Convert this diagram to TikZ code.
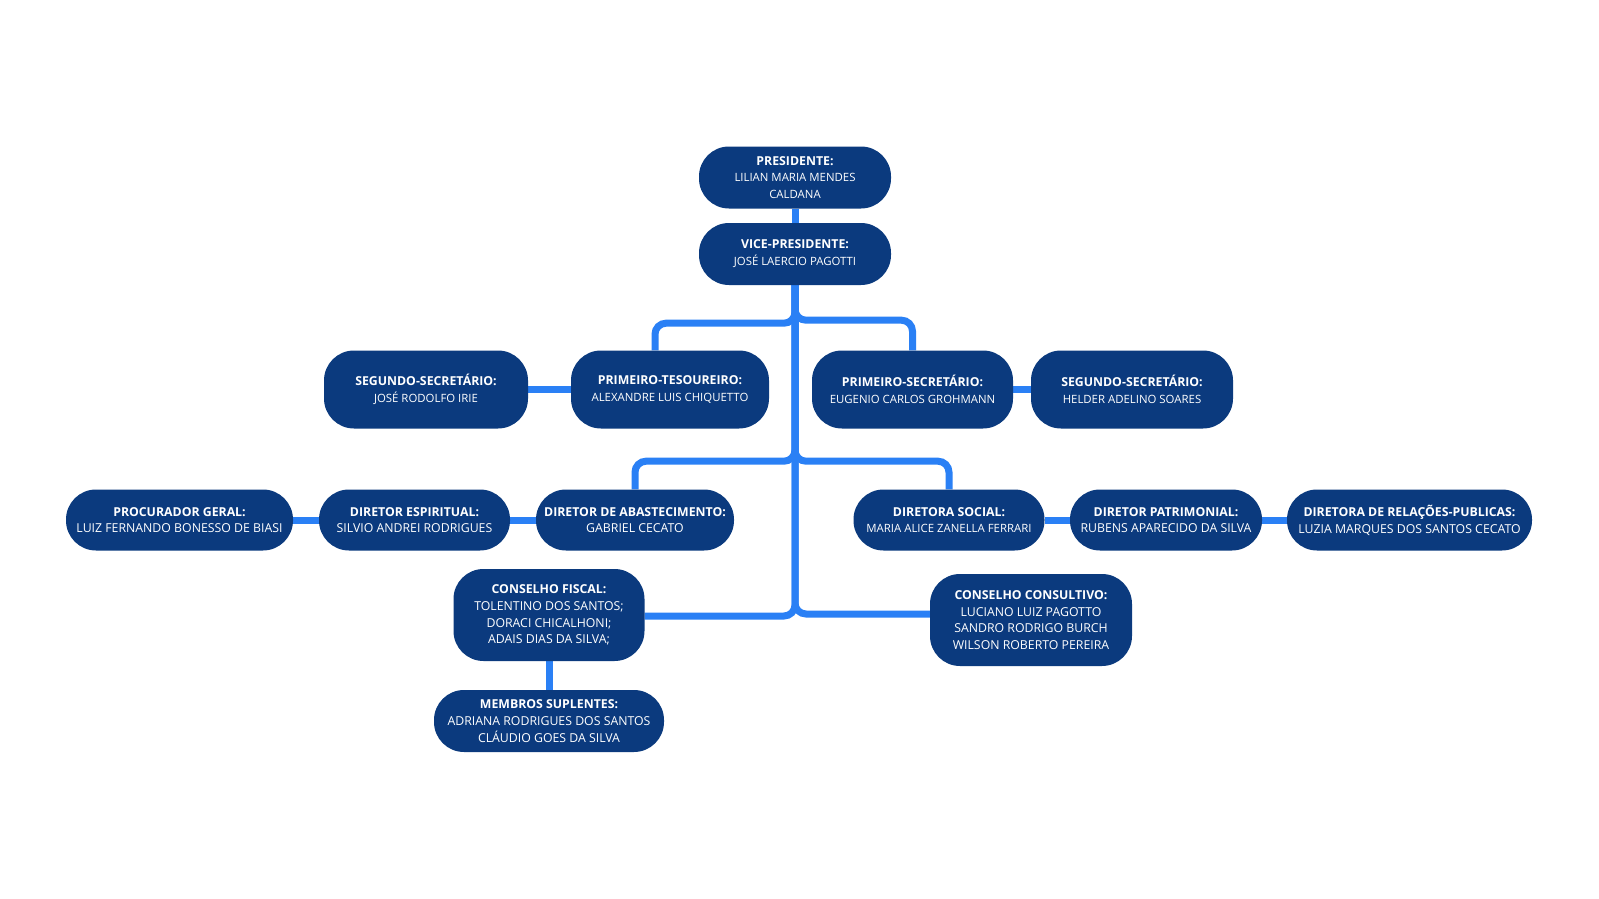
\documentclass[tikz,border=0pt]{standalone}
\usepackage{fontspec}
\setmainfont{Open Sans}
\usetikzlibrary{backgrounds,calc}
\definecolor{navy}{HTML}{0B3A7E}
\definecolor{linkblue}{HTML}{2A80F5}
\newcommand\smallnm[1]{{\fontsize{11.4}{16.8}\selectfont #1}}
\tikzset{
  orgbox/.style={fill=navy, text=white, rounded corners=30pt, align=center, inner sep=0pt,
    font=\fontsize{12.3}{16.8}\selectfont},
  link/.style={draw=linkblue, line width=7pt},
  branch/.style={draw=linkblue, line width=7pt, rounded corners=11pt},
}
\begin{document}
\begin{tikzpicture}[x=1pt,y=-1pt]
\useasboundingbox (0,0) rectangle (1599,899);
% row 0/1
\node[orgbox, minimum width=192pt, minimum height=62pt] (pres) at (795,177.5) {\textbf{PRESIDENTE:}\\\smallnm{LILIAN MARIA MENDES}\\\smallnm{CALDANA}};
\node[orgbox, minimum width=192pt, minimum height=62pt] (vice) at (795,254) {\textbf{VICE-PRESIDENTE:}\\\smallnm{JOSÉ LAERCIO PAGOTTI}};
% row 2
\node[orgbox, minimum width=204pt, minimum height=78pt] (seg1) at (426,389.5) {\textbf{SEGUNDO-SECRETÁRIO:}\\\smallnm{JOSÉ RODOLFO IRIE}};
\node[orgbox, minimum width=198pt, minimum height=78pt] (ptes) at (670,389.5) {\textbf{PRIMEIRO-TESOUREIRO:}\\\smallnm{ALEXANDRE LUIS CHIQUETTO}};
\node[orgbox, minimum width=201pt, minimum height=78pt] (psec) at (912.5,389.5) {\textbf{PRIMEIRO-SECRETÁRIO:}\\\smallnm{EUGENIO CARLOS GROHMANN}};
\node[orgbox, minimum width=202pt, minimum height=78pt] (seg2) at (1132,389.5) {\textbf{SEGUNDO-SECRETÁRIO:}\\\smallnm{HELDER ADELINO SOARES}};
% row 3
\node[orgbox, minimum width=227pt, minimum height=61pt] (proc) at (179.5,520) {\textbf{PROCURADOR GERAL:}\\LUIZ FERNANDO BONESSO DE BIASI};
\node[orgbox, minimum width=191pt, minimum height=61pt] (esp) at (414.5,520) {\textbf{DIRETOR ESPIRITUAL:}\\SILVIO ANDREI RODRIGUES};
\node[orgbox, minimum width=198pt, minimum height=61pt] (abas) at (635,520) {\textbf{DIRETOR DE ABASTECIMENTO:}\\GABRIEL CECATO};
\node[orgbox, minimum width=191pt, minimum height=61pt] (soc) at (949,520) {\textbf{DIRETORA SOCIAL:}\\\smallnm{MARIA ALICE ZANELLA FERRARI}};
\node[orgbox, minimum width=192pt, minimum height=61pt] (patr) at (1166,520) {\textbf{DIRETOR PATRIMONIAL:}\\RUBENS APARECIDO DA SILVA};
\node[orgbox, minimum width=245pt, minimum height=61pt] (rel) at (1409.5,520) {\textbf{DIRETORA DE RELAÇÕES-PUBLICAS:}\\LUZIA MARQUES DOS SANTOS CECATO};
% row 4
\node[orgbox, minimum width=191pt, minimum height=92pt] (fisc) at (549,615) {\textbf{CONSELHO FISCAL:}\\TOLENTINO DOS SANTOS;\\DORACI CHICALHONI;\\ADAIS DIAS DA SILVA;};
\node[orgbox, minimum width=202pt, minimum height=92pt] (cons) at (1031,620) {\textbf{CONSELHO CONSULTIVO:}\\LUCIANO LUIZ PAGOTTO\\SANDRO RODRIGO BURCH\\WILSON ROBERTO PEREIRA};
\node[orgbox, minimum width=230pt, minimum height=62pt] (supl) at (549,721) {\textbf{MEMBROS SUPLENTES:}\\ADRIANA RODRIGUES DOS SANTOS\\CLÁUDIO GOES DA SILVA};
\begin{scope}[on background layer]
  \draw[link] (pres.south) -- (vice.south);
  \draw[branch] (vice.south) -- ($(vice.south)+(0,38)$) -| ([xshift=-15pt]ptes.north);
  \draw[branch] (vice.south) -- ($(vice.south)+(0,35)$) -| (psec.north);
  \draw[branch] (vice.south) -- ($(vice.south)+(0,176)$) -| (abas.north);
  \draw[branch] (vice.south) -- ($(vice.south)+(0,176)$) -| (soc.north);
  \draw[branch] (vice.south) |- ([yshift=-1pt]fisc.east);
  \draw[branch] (vice.south) |- ([yshift=6pt]cons.west);
  \draw[link] (seg1.east) -- (ptes.west);
  \draw[link] (psec.east) -- (seg2.west);
  \draw[link] (proc.east) -- (esp.west);
  \draw[link] (esp.east) -- (abas.west);
  \draw[link] (soc.east) -- (patr.west);
  \draw[link] (patr.east) -- (rel.west);
  \draw[link] (fisc.south) -- (supl.north);
\end{scope}
\end{tikzpicture}
\end{document}
